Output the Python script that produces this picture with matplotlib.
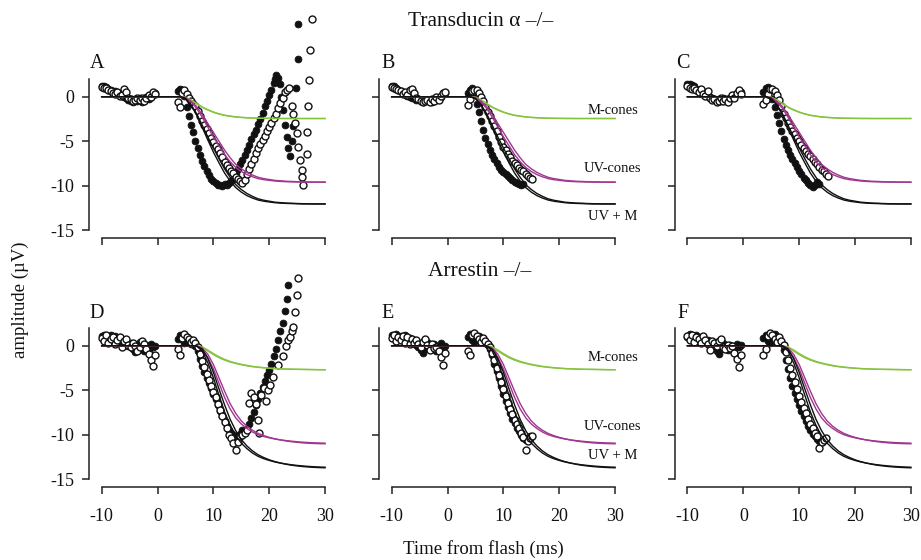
import matplotlib
matplotlib.use('Agg')
import matplotlib.pyplot as plt

plt.rcParams['font.family'] = ['Liberation Serif', 'DejaVu Serif']

# ---------------------------------------------------------------------------
# data
# ---------------------------------------------------------------------------
panel_letters = ['A', 'B', 'C', 'D', 'E', 'F']
row_titles = ['Transducin \u03b1 \u2013/\u2013', 'Arrestin \u2013/\u2013']
curve_names = ['M-cones', 'UV-cones', 'UV + M']
x_ticks = [-10, 0, 10, 20, 30]
y_ticks = [0, -5, -10, -15]

# fitted model curves (two lines per colour), same in every panel of a row
t_fit = [-10, 4, 5, 6, 7, 8, 9, 10, 11, 12, 13, 14, 15, 16, 17, 18, 19, 20,
         21, 22, 23, 24, 25, 26, 27, 28, 29, 30]

top_green_1 = [0, 0, -0.1, -0.4, -0.8, -1.2, -1.5, -1.75, -1.95, -2.1, -2.2, -2.28,
               -2.33, -2.37, -2.4, -2.42, -2.43, -2.44, -2.45, -2.45, -2.45, -2.45,
               -2.45, -2.45, -2.45, -2.45, -2.45, -2.45]
top_green_2 = [0, 0, -0.05, -0.35, -0.75, -1.15, -1.45, -1.72, -1.92, -2.07, -2.18,
               -2.26, -2.32, -2.36, -2.39, -2.41, -2.42, -2.43, -2.44, -2.44, -2.45,
               -2.45, -2.45, -2.45, -2.45, -2.45, -2.45, -2.45]
top_mag_1 = [0, 0, -0.1, -0.5, -1.1, -2.0, -3.0, -4.0, -5.0, -6.0, -6.85, -7.6, -8.1,
             -8.5, -8.8, -9.05, -9.2, -9.3, -9.4, -9.45, -9.5, -9.52, -9.55, -9.57,
             -9.58, -9.6, -9.6, -9.6]
top_mag_2 = [0, 0, -0.15, -0.6, -1.3, -2.3, -3.4, -4.5, -5.5, -6.5, -7.3, -7.95, -8.4,
             -8.75, -9.0, -9.2, -9.32, -9.4, -9.47, -9.52, -9.55, -9.57, -9.58, -9.6,
             -9.6, -9.6, -9.6, -9.6]
top_black_1 = [0, 0, -0.2, -0.9, -1.9, -3.2, -4.5, -5.75, -6.95, -8.1, -9.05, -9.88,
               -10.43, -10.87, -11.2, -11.47, -11.63, -11.74, -11.85, -11.9, -11.95,
               -11.97, -12.0, -12.02, -12.03, -12.05, -12.05, -12.05]
top_black_2 = [0, 0, -0.2, -0.95, -2.05, -3.45, -4.85, -6.22, -7.42, -8.57, -9.48,
               -10.21, -10.72, -11.11, -11.39, -11.61, -11.74, -11.83, -11.91, -11.96,
               -11.99, -12.01, -12.03, -12.05, -12.05, -12.05, -12.05, -12.05]

bot_green_1 = [0, 0, 0, 0, -0.02, -0.2, -0.6, -1.0, -1.35, -1.62, -1.84, -2.0, -2.14,
               -2.26, -2.36, -2.43, -2.49, -2.54, -2.58, -2.61, -2.63, -2.65, -2.66,
               -2.67, -2.68, -2.69, -2.7, -2.7]
bot_green_2 = [0, 0, 0, 0, -0.01, -0.12, -0.48, -0.88, -1.24, -1.53, -1.76, -1.94,
               -2.09, -2.21, -2.32, -2.4, -2.46, -2.52, -2.56, -2.59, -2.62, -2.64,
               -2.65, -2.66, -2.67, -2.68, -2.69, -2.7]
bot_mag_1 = [0, 0, 0, 0, -0.02, -0.4, -1.3, -2.6, -4.2, -5.8, -7.1, -8.1, -8.8, -9.3,
             -9.7, -10.0, -10.2, -10.35, -10.48, -10.58, -10.66, -10.73, -10.79,
             -10.84, -10.88, -10.91, -10.93, -10.95]
bot_mag_2 = [0, 0, 0, 0, -0.01, -0.25, -0.95, -2.1, -3.6, -5.1, -6.5, -7.6, -8.45,
             -9.05, -9.5, -9.85, -10.1, -10.3, -10.46, -10.59, -10.7, -10.79, -10.86,
             -10.92, -10.96, -10.99, -11.01, -11.02]
bot_black_1 = [0, 0, 0, 0, -0.04, -0.6, -1.9, -3.6, -5.55, -7.42, -8.94, -10.1,
               -10.94, -11.56, -12.06, -12.43, -12.69, -12.89, -13.06, -13.19, -13.29,
               -13.38, -13.45, -13.51, -13.56, -13.6, -13.63, -13.65]
bot_black_2 = [0, 0, 0, 0, -0.02, -0.37, -1.43, -2.98, -4.84, -6.63, -8.26, -9.54,
               -10.54, -11.26, -11.82, -12.25, -12.56, -12.82, -13.02, -13.18, -13.32,
               -13.43, -13.51, -13.58, -13.63, -13.67, -13.7, -13.72]

# recorded responses: filled and open symbols (sample times in ms)
t_pre = [-10.0, -9.6, -9.2, -8.8, -8.4, -8.0, -7.6, -7.2, -6.8, -6.4, -6.0, -5.6,
         -5.2, -4.8, -4.4, -4.0, -3.6, -3.2, -2.8, -2.4, -2.0, -1.6, -1.2, -0.8, -0.4]
t_post = [3.6, 4.0, 4.4, 4.8, 5.2, 5.6, 6.0, 6.4, 6.8, 7.2, 7.6, 8.0, 8.4, 8.8, 9.2,
          9.6, 10.0, 10.4, 10.8, 11.2, 11.6, 12.0, 12.4, 12.8, 13.2, 13.6, 14.0,
          14.4, 14.8, 15.2]

# panel A
a_fill_pre = [1.2, 1.2, 1.1, 0.9, 0.8, 0.5, 0.6, 0.3, 0.2, 0.1, 0.0, -0.2, -0.4,
              -0.5, -0.6, -0.3, -0.5, -0.2, -0.6, -0.4, 0.0, -0.3, 0.1, 0.3, 0.4]
a_open_pre = [1.1, 1.0, 1.0, 0.8, 0.6, 0.4, 0.3, 0.5, 0.1, 0.2, 0.9, 0.5, -0.1, -0.3,
              -0.5, -0.4, -0.2, -0.4, -0.1, -0.5, -0.2, 0.2, 0.0, 0.5, 0.3]
a_fill_t = t_post + [15.6, 16.0, 16.4, 16.8, 17.2, 17.6, 18.0, 18.4, 18.8, 19.2,
                     19.6, 20.0, 20.4, 20.8, 21.1, 21.3, 21.6, 21.9, 22.2, 22.5,
                     22.8, 23.1, 23.4, 23.7, 24.0, 24.3, 24.8, 25.1, 25.2]
a_fill_y = [0.6, 0.9, 0.8, 0.1, -1.2, -2.2, -3.2, -4.0, -5.0, -5.8, -6.5, -7.2, -7.8,
            -8.4, -8.8, -9.2, -9.5, -9.7, -9.9, -9.9, -10.0, -9.8, -9.9, -9.7, -9.5,
            -9.2, -8.6, -8.1, -7.6, -7.1, -6.6, -6.0, -5.4, -4.8, -4.2, -3.7, -3.1,
            -2.5, -1.8, -1.1, -0.5, 0.2, 0.8, 1.5, 2.0, 2.4, 2.1, 1.4, 0.0, -1.5, -3.2,
            -4.5, -5.8, -6.7, -5.0, -3.3, 1.0, 4.2, 8.2]
a_open_t = t_post + [15.6, 16.0, 16.4, 16.8, 17.2, 17.6, 18.0, 18.4, 18.8, 19.2,
                     19.6, 20.0, 20.4, 20.8, 21.2, 21.6, 22.0, 22.4, 22.8, 23.2,
                     23.6, 24.0, 24.3, 24.6, 24.9, 25.2, 25.5, 25.8, 25.9, 26.0,
                     26.7, 26.8, 27.0, 27.2, 27.3, 27.6]
a_open_y = [-0.6, -1.2, 0.4, 0.7, 0.3, -0.2, -0.5, -0.8, -1.1, -1.6, -2.2, -2.7, -3.2,
            -3.6, -4.1, -4.6, -5.1, -5.5, -5.9, -6.3, -6.8, -7.3, -7.7, -8.0, -8.3,
            -8.6, -9.0, -9.3, -9.5, -9.7, -9.4, -8.7, -8.1, -7.6, -7.0, -6.3, -5.8,
            -5.3, -4.9, -4.4, -3.9, -3.4, -2.9, -2.4, -1.9, -1.3, -0.7, -0.1, 0.5, 0.8,
            0.95, -1.1, -2.0, -3.0, -4.1, -5.6, -7.1, -8.2, -9.0, -9.9, -6.4, -4.0,
            -1.1, 1.9, 5.2, 8.7]

# panel B
b_fill_pre = [1.2, 1.2, 1.0, 0.8, 0.6, 0.4, 0.3, 0.1, 0.0, -0.1, -0.2, -0.4, -0.3,
              -0.5, -0.6, -0.5, -0.4, -0.5, -0.6, -0.3, -0.4, -0.2, 0.0, 0.3, 0.4]
b_open_pre = [1.1, 1.0, 0.9, 0.7, 0.6, 0.3, 0.5, 0.2, 0.8, 0.9, 0.4, -0.2, -0.3, -0.5,
              -0.6, -0.5, -0.4, -0.6, -0.3, -0.5, 0.0, -0.4, 0.1, 0.4, 0.5]
b_fill_post = [0.4, 0.8, 1.0, 0.4, -0.8, -1.7, -2.7, -3.7, -4.6, -5.3, -6.0, -6.6,
               -7.0, -7.5, -7.9, -8.2, -8.5, -8.7, -8.9, -9.1, -9.4, -9.6, -9.7, -9.8,
               -9.9, -9.8]
b_open_post = [-0.9, -0.3, 0.6, 0.8, 0.7, 0.4, 0.0, -0.5, -1.2, -1.7, -2.2, -2.7, -3.3,
               -3.9, -4.5, -5.1, -5.6, -6.0, -6.4, -6.8, -7.2, -7.5, -7.7, -8.0, -8.2,
               -8.4, -8.7, -8.9, -9.1, -9.2]

# panel C
c_fill_pre = [1.4, 1.4, 1.3, 1.2, 0.9, 0.7, 0.5, 0.4, 0.2, 0.1, 0.0, -0.2, -0.3, -0.4,
              -0.3, -0.5, -0.2, -0.4, -0.3, -0.1, 0.1, 0.2, 0.3, 0.4, 0.5]
c_open_pre = [1.2, 1.0, 0.9, 1.0, 0.8, 0.5, 0.9, 0.3, 0.1, 0.6, -0.1, -0.4, -0.3, -0.6,
              -0.5, -0.2, -0.5, -0.3, -0.6, -0.2, 0.2, -0.1, 0.4, 0.7, 0.3]
c_fill_post = [0.5, 1.0, 1.1, 0.7, -0.3, -1.2, -2.1, -3.0, -3.9, -4.7, -5.4, -6.0,
               -6.5, -7.0, -7.5, -7.9, -8.3, -8.7, -9.1, -9.4, -9.7, -9.9, -10.1, -9.9,
               -9.6, -9.8]
c_open_post = [-0.8, -0.4, 0.3, 0.9, 0.9, 0.6, 0.2, -0.4, -1.1, -1.9, -2.4, -2.9, -3.4,
               -3.8, -4.2, -4.6, -5.0, -5.4, -5.8, -6.1, -6.4, -6.7, -7.0, -7.3, -7.6,
               -7.9, -8.2, -8.4, -8.7, -8.9]

# panel D
d_fill_pre = [1.1, 1.2, 0.9, 1.0, 1.2, 0.7, 1.1, 0.8, 0.4, 0.6, 0.2, 0.4, 0.0, 0.3,
              -0.4, -0.7, -0.2, 0.4, -0.3, -0.6, 0.1, -0.5, 0.2, -0.2, 0.0]
d_open_pre = [0.9, 0.5, 1.2, 0.3, 0.8, 1.0, 0.2, 0.6, 1.0, -0.2, 0.5, 0.7, 0.1, -0.2,
              0.3, 0.0, -0.6, -0.1, 0.5, 0.2, -0.4, -0.9, -1.6, -2.3, -1.0]
d_fill_t = t_post + [15.6, 16.0, 16.4, 16.8, 17.2, 17.6, 18.0, 18.4, 18.8, 19.2,
                     19.6, 20.0, 20.4, 20.8, 21.2, 21.6, 22.0, 22.4, 22.8, 23.1, 23.4]
d_fill_y = [0.8, 1.2, 0.7, 0.3, 0.9, 0.5, 0.2, 0.3, 0.0, -0.6, -1.5, -2.3, -3.0, -3.6,
            -4.2, -4.8, -5.4, -6.0, -6.7, -7.3, -7.9, -8.5, -9.0, -9.5, -9.8, -10.0,
            -10.2, -10.1, -9.9, -9.5, -9.6, -9.4, -8.8, -8.1, -7.4, -6.7, -6.0, -5.3,
            -4.6, -4.0, -3.3, -2.7, -2.0, -1.2, -0.4, 0.6, 1.6, 2.6, 3.9, 5.2, 6.8]
d_open_t = t_post + [15.6, 16.0, 16.4, 16.8, 17.2, 17.6, 18.0, 18.2, 18.6, 19.0,
                     19.4, 19.8, 20.2, 20.7, 21.6, 22.5, 23.0, 23.4, 23.7, 24.0,
                     24.3, 24.6, 24.9, 25.2]
d_open_y = [-0.4, -1.05, 0.9, 1.3, 1.0, 0.7, 0.4, 0.6, 0.3, -0.2, -0.9, -1.7, -2.4,
            -3.2, -3.9, -4.5, -5.2, -5.8, -6.5, -7.2, -7.9, -8.6, -9.3, -10.0, -10.4,
            -10.9, -11.7, -10.8, -10.2, -10.0, -9.8, -9.5, -6.4, -5.3, -5.8, -6.6,
            -8.3, -9.8, -5.5, -4.8, -6.2, -5.0, -4.4, -3.5, -2.2, -1.2, 0.0, 0.6, 1.0,
            1.6, 2.1, 3.8, 5.7, 7.6]

# panel E
e_fill_pre = [1.2, 1.0, 1.3, 0.9, 1.1, 0.8, 1.2, 0.6, 0.9, 0.4, 0.5, 0.1, -0.1, -0.5,
              -0.8, -0.3, 0.4, 0.0, -0.4, 0.2, -0.6, -0.2, 0.3, -0.1, 0.0]
e_open_pre = [0.9, 1.2, 0.5, 1.0, 0.6, 1.1, 0.3, 1.0, 0.2, 0.7, 0.3, 0.6, 0.2, -0.2,
              0.4, 0.7, 0.1, -0.5, 0.2, -0.3, -0.1, -0.6, -1.3, -2.2, -0.8]
e_fill_post = [1.0, 1.3, 0.6, 0.4, 0.9, 1.1, 0.8, 0.5, 0.3, 0.1, -0.4, -1.1, -2.0,
               -2.8, -3.6, -4.5, -5.4, -6.2, -6.9, -7.6, -8.2, -8.7, -9.2, -9.6, -10.0,
               -10.4, -10.6, -10.5, -10.1]
e_open_post = [-0.6, -1.0, 1.2, 1.4, 1.1, 0.7, 0.4, 0.9, 0.5, 0.2, -0.2, -0.8, -1.6,
               -2.5, -3.3, -4.1, -4.9, -5.7, -6.4, -7.1, -7.7, -8.3, -8.8, -9.3, -9.8,
               -10.3, -11.7, -10.7, -10.4, -10.2]

# panel F
f_fill_pre = [1.0, 1.3, 1.1, 0.8, 1.2, 1.0, 0.7, 0.9, 0.5, 0.6, 0.2, 0.3, -0.2, -0.6,
              -0.9, -0.4, 0.3, -0.1, -0.5, 0.1, -0.3, -0.5, 0.2, -0.2, 0.1]
f_open_pre = [1.1, 0.6, 1.2, 0.4, 1.0, 0.8, 0.3, 1.1, 0.6, 0.2, -0.5, 0.5, 0.3, 0.0,
              0.5, 0.8, -0.2, -0.4, 0.1, -0.3, 0.0, -0.8, -1.5, -2.4, -1.0]
f_fill_post = [0.9, 1.2, 0.5, 0.3, 1.0, 1.3, 0.9, 0.6, 0.4, -0.5, -1.6, -2.6, -3.6,
               -4.5, -5.3, -6.0, -6.7, -7.3, -7.9, -8.5, -9.0, -9.5, -9.9, -10.2, -10.5,
               -10.7, -10.8, -10.6]
f_open_post = [-1.0, -0.4, 1.1, 1.4, 1.2, 0.8, 0.4, 1.0, 0.5, 0.1, -0.7, -1.6, -2.5,
               -3.3, -4.1, -4.9, -5.6, -6.3, -7.0, -7.6, -8.2, -8.8, -9.3, -9.8, -10.2,
               -11.5, -10.8, -10.6, -10.4]

panels = [
    # (pre filled, pre open, post filled t, post filled y, post open t, post open y)
    (a_fill_pre, a_open_pre, a_fill_t, a_fill_y, a_open_t, a_open_y),
    (b_fill_pre, b_open_pre, t_post[:len(b_fill_post)], b_fill_post,
     t_post[:len(b_open_post)], b_open_post),
    (c_fill_pre, c_open_pre, t_post[:len(c_fill_post)], c_fill_post,
     t_post[:len(c_open_post)], c_open_post),
    (d_fill_pre, d_open_pre, d_fill_t, d_fill_y, d_open_t, d_open_y),
    (e_fill_pre, e_open_pre, t_post[:len(e_fill_post)], e_fill_post,
     t_post[:len(e_open_post)], e_open_post),
    (f_fill_pre, f_open_pre, t_post[:len(f_fill_post)], f_fill_post,
     t_post[:len(f_open_post)], f_open_post),
]
row_curves = [
    (top_green_1, top_green_2, top_mag_1, top_mag_2, top_black_1, top_black_2),
    (bot_green_1, bot_green_2, bot_mag_1, bot_mag_2, bot_black_1, bot_black_2),
]
label_y = [(-1.5, -8.1, -13.5), (-1.3, -9.1, -12.3)]

# ---------------------------------------------------------------------------
# styling / layout (pixel based, 921 x 560)
# ---------------------------------------------------------------------------
GREEN = '#86c440'
MAGENTA = '#a0368f'
INK = '#111111'

W, H = 921, 560
PX_X = 5.585   # px per ms
PX_Y = 8.9     # px per uV
XLIM = (-12.5, 30.5)
YLIM = (-16, 10)
col_left = [87.7, 377.7, 673.5]
row_top = [7.7, 256.7]

fig = plt.figure(figsize=(W / 100, H / 100), dpi=100)
fig.patch.set_facecolor('white')

ax_w = (XLIM[1] - XLIM[0]) * PX_X
ax_h = (YLIM[1] - YLIM[0]) * PX_Y

for i, letter in enumerate(panel_letters):
    r, c = divmod(i, 3)
    ax = fig.add_axes([col_left[c] / W, 1 - (row_top[r] + ax_h) / H,
                       ax_w / W, ax_h / H])
    ax.set_xlim(*XLIM)
    ax.set_ylim(*YLIM)
    ax.patch.set_alpha(0)

    # data points first, fitted curves on top
    fpre, opre, ft, fy, ot, oy = panels[i]
    ax.plot(t_pre + ft, fpre + fy, 'o', ms=4.9, mfc=INK, mec=INK, mew=0.6,
            zorder=3, clip_on=False)
    ax.plot(t_pre + ot, opre + oy, 'o', ms=5.0, mfc='white', mec=INK, mew=1.0,
            zorder=4, clip_on=False)

    g1, g2, m1, m2, k1, k2 = row_curves[r]
    for yy, col in [(g1, GREEN), (g2, GREEN), (m1, MAGENTA), (m2, MAGENTA),
                    (k1, INK), (k2, INK)]:
        ax.plot(t_fit, yy, color=col, lw=1.0, zorder=5)

    for s in ['top', 'right']:
        ax.spines[s].set_visible(False)
    ax.spines['left'].set_position(('data', -12.2))
    ax.spines['left'].set_bounds(-15, 2)
    ax.spines['bottom'].set_position(('data', -15.85))
    ax.spines['bottom'].set_bounds(-10, 30)
    for s in ['left', 'bottom']:
        ax.spines[s].set_linewidth(1.1)
        ax.spines[s].set_color('#222222')

    ax.set_xticks(x_ticks)
    ax.set_yticks(y_ticks)
    ax.tick_params(length=5, width=1.1, color='#222222', labelsize=13,
                   labelcolor=INK)
    ax.tick_params(axis='x', pad=10)
    ax.tick_params(axis='y', pad=6)
    if r == 0:
        ax.set_xticklabels([])
    else:
        ax.set_xticklabels([str(v) for v in x_ticks])
    if c != 0:
        ax.set_yticklabels([])
    else:
        ax.set_yticklabels([str(v) for v in y_ticks])

    if c == 1:
        for name, yy in zip(curve_names, label_y[r]):
            ax.text(29.6, yy, name, fontsize=10.5, ha='center', va='center',
                    color=INK, zorder=6, clip_on=False)

    lx = [97, 388, 683][c]
    ly = [63, 313][r]
    fig.text(lx / W, 1 - ly / H, letter, fontsize=14.5, ha='center', va='center',
             color=INK)

fig.text(481 / W, 1 - 22 / H, row_titles[0], fontsize=15.5, ha='center',
         va='center', color=INK)
fig.text(480 / W, 1 - 271 / H, row_titles[1], fontsize=15.5, ha='center',
         va='center', color=INK)
fig.text(20 / W, 1 - 300 / H, 'amplitude (\u00b5V)', fontsize=13.5, rotation=90,
         ha='center', va='center', color=INK)
fig.text(483 / W, 1 - 549 / H, 'Time from flash (ms)', fontsize=13.5, ha='center',
         va='center', color=INK)

fig.savefig('out.png', dpi=100, facecolor='white')
